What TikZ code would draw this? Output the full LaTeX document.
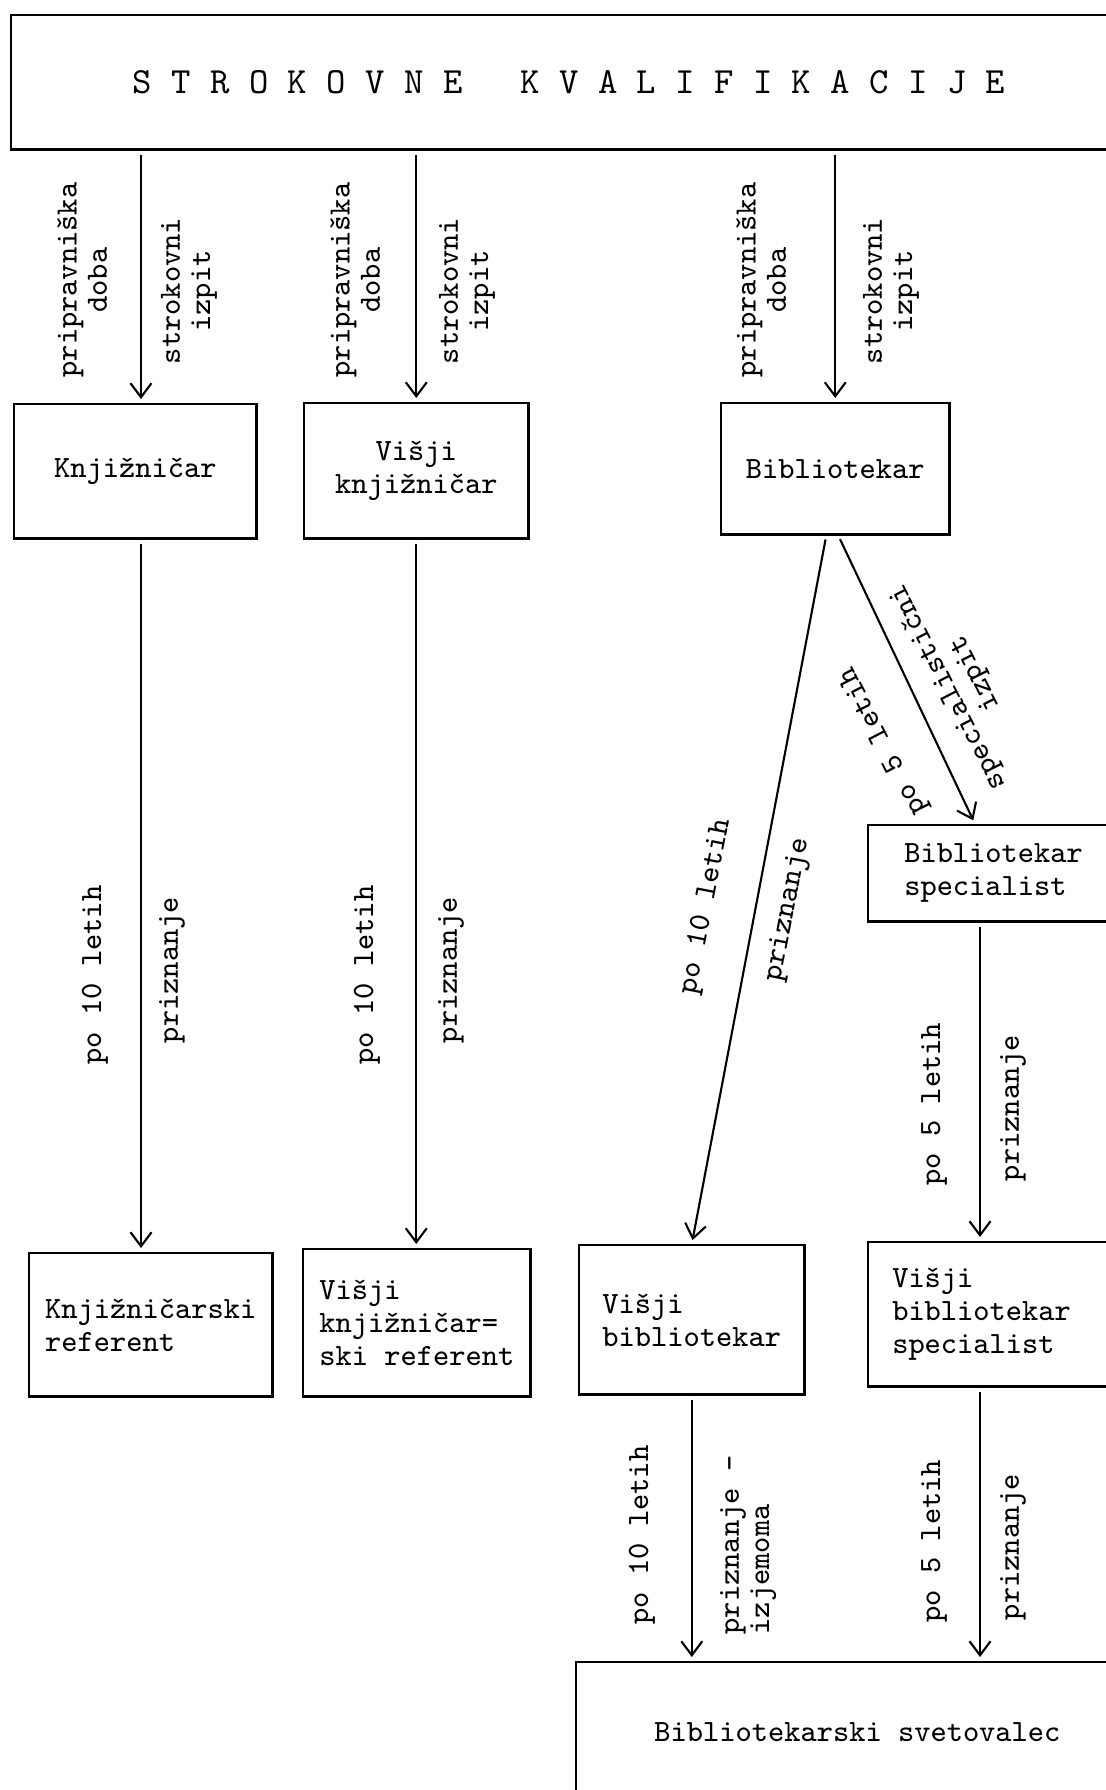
\documentclass[tikz,border=0pt]{standalone}
\usepackage{fontspec}
\usetikzlibrary{arrows.meta}

\newcommand\typew{\ttfamily\addfontfeatures{FakeBold=0.6}}

\tikzset{
    box/.style={draw, line width=0.7pt, anchor=north west, inner sep=0pt, align=left,
        font=\typew\fontsize{8.8}{9.4}\selectfont},
    lab/.style={inner sep=1pt, align=center, font=\typew\fontsize{8.8}{8.6}\selectfont},
    arr/.style={-{Straight Barb[length=1.4mm,width=2.1mm]}, line width=0.6pt,
        shorten <=0.4mm, shorten >=0.4mm}
}

\begin{document}
\begin{tikzpicture}[x=0.01cm, y=-0.01cm]

        \useasboundingbox (0,0) rectangle (1105,1790);

        % Title box (runs off the page on the right)
        \node[box, align=center, minimum width=11.15cm, minimum height=1.34cm,
            font=\typew\fontsize{10.5}{12}\selectfont] (title) at (10,14)
            {S T R O K O V N E\ \ \ K V A L I F I K A C I J E};

        % First level
        \node[box, align=center, minimum width=2.42cm, minimum height=1.34cm] (knj) at (13,403) {Knjižničar};
        \node[box, align=center, minimum width=2.24cm, minimum height=1.35cm] (vknj) at (303,402) {Višji\\knjižničar};
        \node[box, align=center, minimum width=2.28cm, minimum height=1.31cm] (bib) at (720,402) {Bibliotekar};
        \node[box, text width=1.9cm, inner xsep=0.36cm, minimum height=0.96cm] (bibspec) at (867,824) {Bibliotekar\\specialist};

        % Second level
        \node[box, minimum width=2.43cm, minimum height=1.43cm] (knjref) at (28,1252) {Knjižničarski\\referent};
        \node[box, minimum width=2.27cm, minimum height=1.47cm] (vknjref) at (302,1248) {Višji\\knjižničar=\\ski referent};
        \node[box, minimum width=2.25cm, minimum height=1.49cm] (vbib) at (578,1244) {Višji\\bibliotekar};
        \node[box, text width=2.0cm, inner xsep=0.24cm, minimum height=1.44cm] (vbibspec) at (867,1241) {Višji\\bibliotekar\\specialist};

        % Top level
        \node[box, align=center, minimum width=5.62cm, minimum height=1.39cm] (svet) at (575,1661) {Bibliotekarski svetovalec};

        % Columns for the connectors
        \coordinate (c1) at (141,0);
        \coordinate (c4) at (980,0);
        \coordinate (c5) at (975,0);

        % Draw connectors
        \draw[arr] (title.south -| c1) -- (knj.north -| c1);
        \draw[arr] (title.south -| vknj.north) -- (vknj.north);
        \draw[arr] (title.south -| bib.north) -- (bib.north);
        \draw[arr] (knj.south -| c1) -- (knjref.north -| c1);
        \draw[arr] (vknj.south) -- (vknj.south |- vknjref.north);
        \draw[arr] ([xshift=-0.09cm]bib.south) -- (vbib.north);
        \draw[arr] ([xshift=0.03cm]bib.south) -- (bibspec.north -| c5);
        \draw[arr] (bibspec.south -| c4) -- (vbibspec.north -| c4);
        \draw[arr] (vbib.south) -- (vbib.south |- svet.north);
        \draw[arr] (vbibspec.south -| c4) -- (svet.north -| c4);

        % Labels along the connectors
        \node[lab, rotate=90] (doba1) at (82,280) {pripravniška\\doba};
        \node[lab, rotate=90] (izpit1) at (189,291) {strokovni\\izpit};
        \node[lab, rotate=90] (doba2) at (355,280) {pripravniška\\doba};
        \node[lab, rotate=90] (izpit2) at (467,291) {strokovni\\izpit};
        \node[lab, rotate=90] (doba3) at (761,280) {pripravniška\\doba};
        \node[lab, rotate=90] (izpit3) at (891,291) {strokovni\\izpit};

        \node[lab, rotate=90] (leta1) at (95,975) {po 10 letih};
        \node[lab, rotate=90] (priz1) at (172,970) {priznanje};
        \node[lab, rotate=90] (leta2) at (367,975) {po 10 letih};
        \node[lab, rotate=90] (priz2) at (451,970) {priznanje};

        \node[lab, rotate=79] (leta3) at (706,907) {po 10 letih};
        \node[lab, rotate=79] (priz3) at (788,910) {priznanje};
        \node[lab, rotate=117] (leta4) at (884,741) {po 5 letih};
        \node[lab, rotate=117] (spec4) at (962,680) {specialistični\\izpit};

        \node[lab, rotate=90] (leta5) at (934,1104) {po 5 letih};
        \node[lab, rotate=90] (priz5) at (1013,1108) {priznanje};

        \node[lab, rotate=90] (leta6) at (642,1535) {po 10 letih};
        \node[lab, rotate=90, align=left] (priz6) at (748,1545) {priznanje -\\izjemoma};
        \node[lab, rotate=90] (leta7) at (934,1541) {po 5 letih};
        \node[lab, rotate=90] (priz7) at (1013,1547) {priznanje};

\end{tikzpicture}
\end{document}
